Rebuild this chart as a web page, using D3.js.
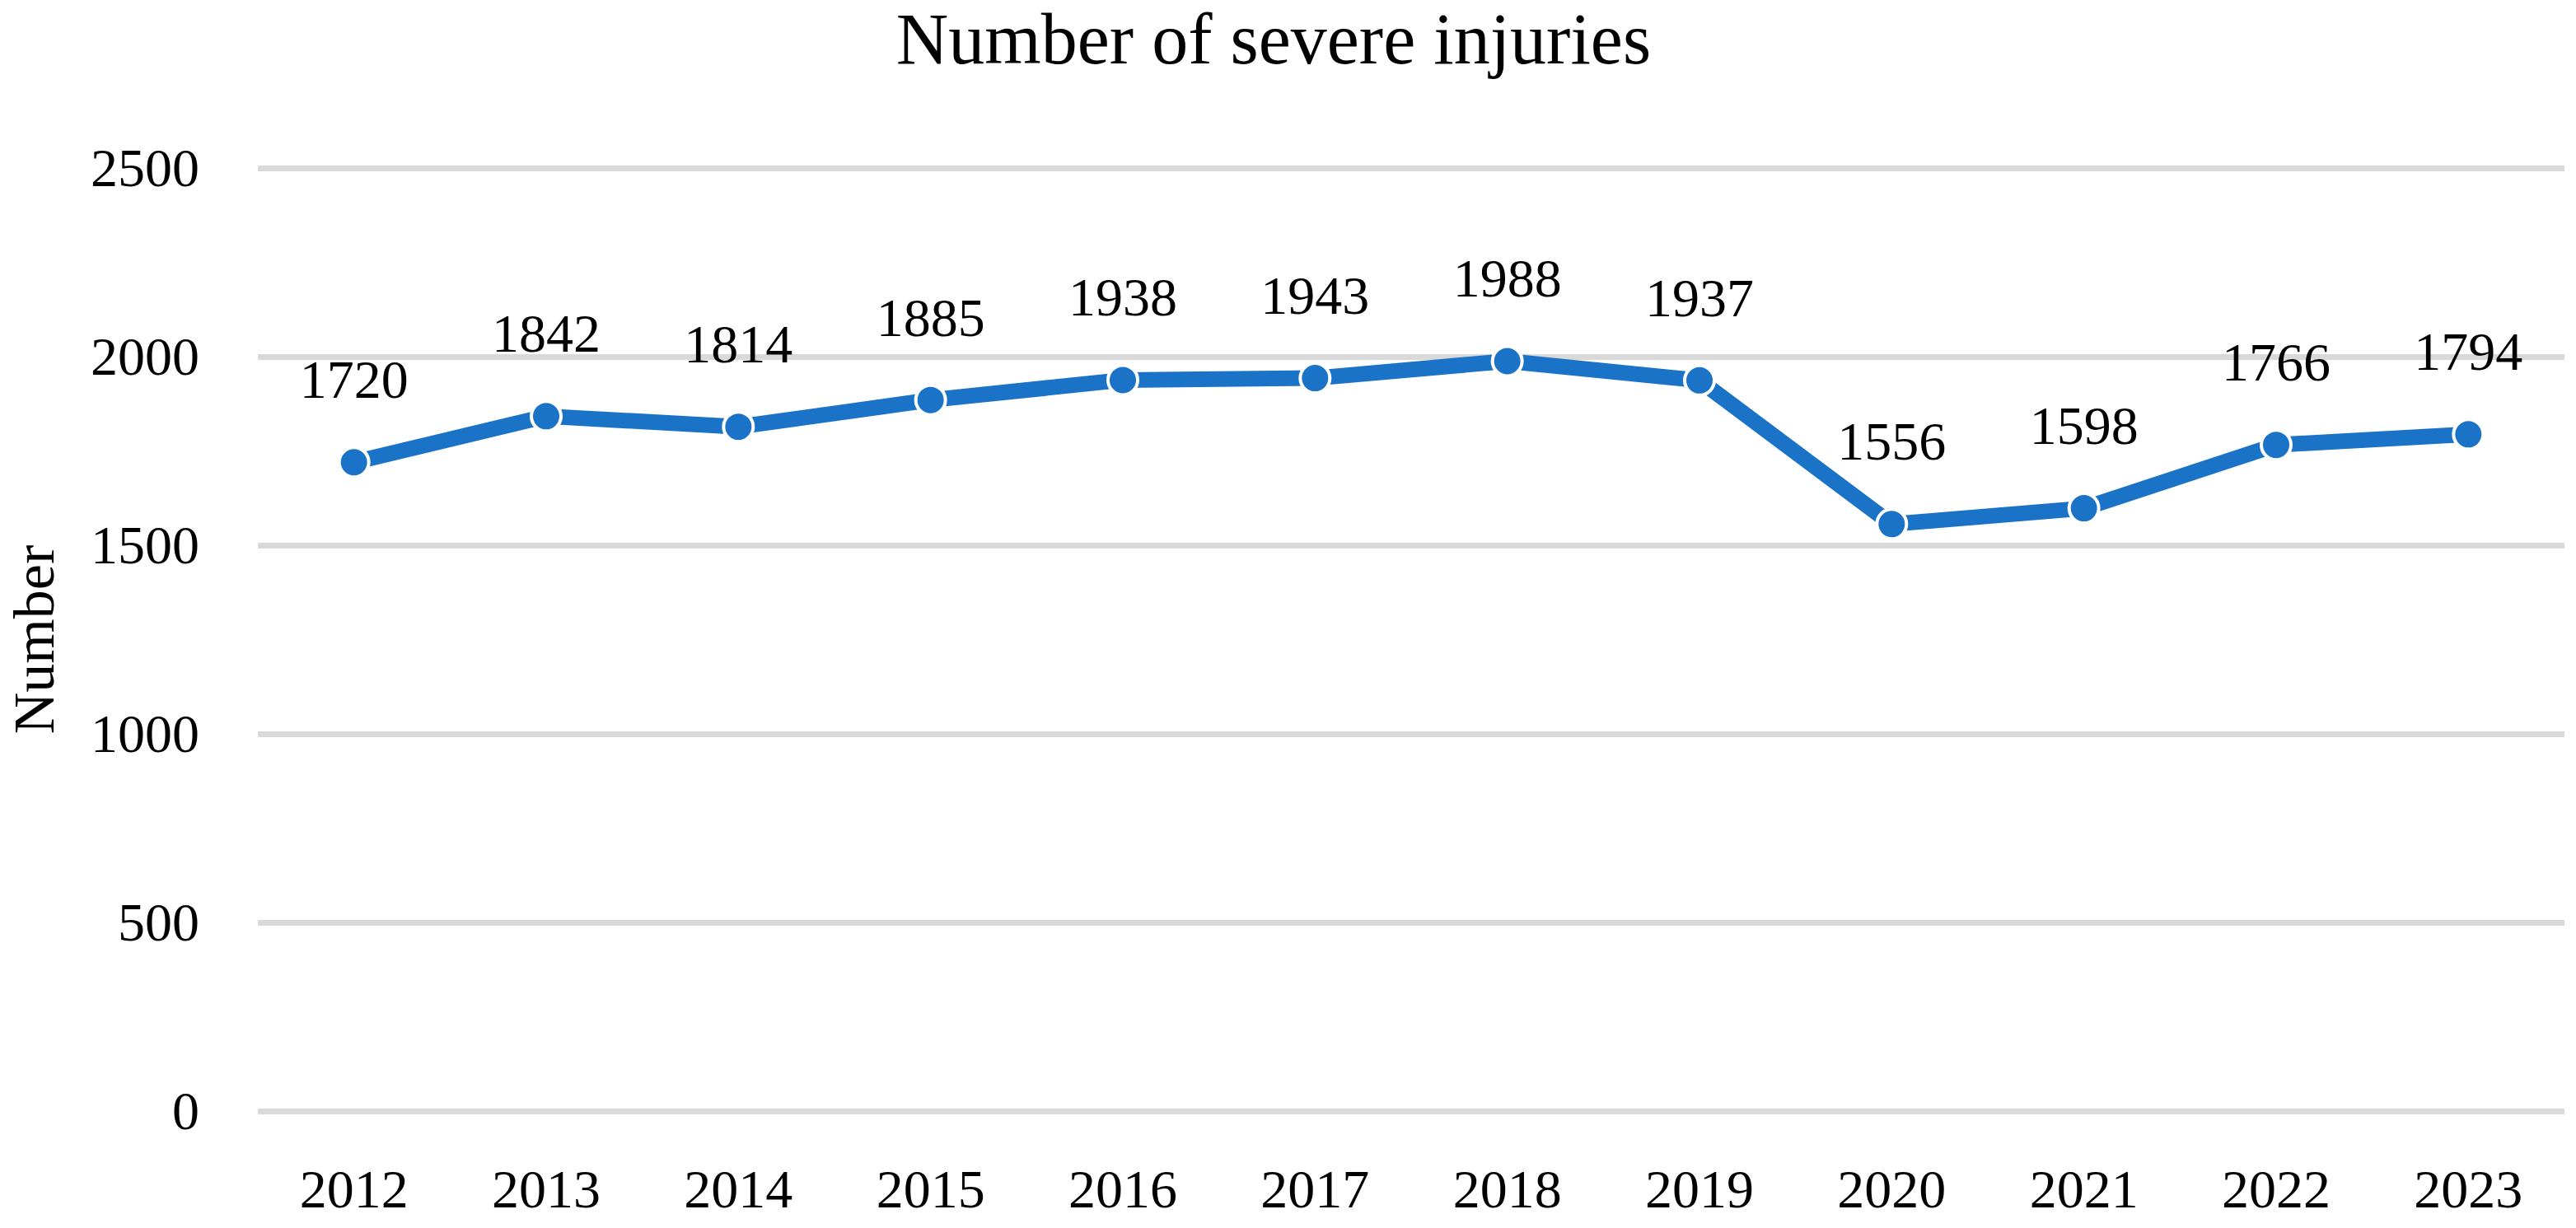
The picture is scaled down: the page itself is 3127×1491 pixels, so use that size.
<!DOCTYPE html>
<html lang="en">
  <head>
    <meta charset="utf-8">
    <title>Number of severe injuries</title>
    <script src="https://cdn.jsdelivr.net/npm/d3@7"></script>
    <style>
      body { margin: 0; background: #fff; }
      svg text { font-family: "Palatino Linotype", "Book Antiqua", Palatino, "Liberation Serif", serif; fill: #000; }
    </style>
  </head>
  <body>
    <div id='main'></div>

    <script type='text/javascript'>

      // chart data
      const years = ['2012','2013','2014','2015','2016','2017','2018','2019','2020','2021','2022','2023'];
      const injuries = [1720, 1842, 1814, 1885, 1938, 1943, 1988, 1937, 1556, 1598, 1766, 1794];
      const yTicks = [0, 500, 1000, 1500, 2000, 2500];

      const width = 3127, height = 1491;
      const plotLeft = 313, plotRight = 3113, plotTop = 204, plotBottom = 1349;
      const blue = '#1a73c7';

      let svg = d3.select('#main').append('svg')
        .attr('width', width)
        .attr('height', height);

      const x = d3.scaleBand().domain(years).range([plotLeft, plotRight]);
      const y = d3.scaleLinear().domain([0, 2500]).range([plotBottom, plotTop]);
      const cx = d => x(d) + x.bandwidth() / 2;

      // gridlines + y tick labels
      const yAxis = svg.append('g')
        .attr('transform', `translate(${plotLeft},0)`)
        .call(d3.axisLeft(y).tickValues(yTicks).tickFormat(d3.format('d'))
          .tickSizeInner(-(plotRight - plotLeft)).tickSizeOuter(0).tickPadding(71));
      yAxis.select('.domain').remove();
      yAxis.selectAll('.tick line').attr('stroke', '#d9d9d9').attr('stroke-width', 7);
      yAxis.selectAll('.tick text').attr('font-size', '66px').attr('fill', '#000');

      // x tick labels
      const xAxis = svg.append('g')
        .attr('transform', `translate(0,${plotBottom})`)
        .call(d3.axisBottom(x).tickSize(0).tickPadding(70));
      xAxis.select('.domain').remove();
      xAxis.selectAll('.tick text').attr('font-size', '66px').attr('fill', '#000');

      // series line
      const line = d3.line()
        .x((d, i) => cx(years[i]))
        .y(d => y(d));

      svg.append('path')
        .datum(injuries)
        .attr('d', line)
        .attr('fill', 'none')
        .attr('stroke', blue)
        .attr('stroke-width', 19)
        .attr('stroke-linejoin', 'round');

      // markers
      svg.selectAll('circle.pt')
        .data(injuries)
        .enter()
        .append('circle')
        .attr('class', 'pt')
        .attr('cx', (d, i) => cx(years[i]))
        .attr('cy', d => y(d))
        .attr('r', 18)
        .attr('fill', blue)
        .attr('stroke', '#fff')
        .attr('stroke-width', 4);

      // data labels
      svg.selectAll('text.lbl')
        .data(injuries)
        .enter()
        .append('text')
        .attr('class', 'lbl')
        .attr('x', (d, i) => cx(years[i]))
        .attr('y', d => y(d) - 78)
        .attr('text-anchor', 'middle')
        .attr('font-size', '66px')
        .text(d => d);

      // title
      svg.append('text')
        .attr('x', 1546)
        .attr('y', 77)
        .attr('text-anchor', 'middle')
        .attr('font-size', '88px')
        .text('Number of severe injuries');

      // y axis title
      svg.append('text')
        .attr('transform', `translate(65,${(plotTop + plotBottom) / 2}) rotate(-90)`)
        .attr('text-anchor', 'middle')
        .attr('font-size', '70px')
        .text('Number');

    </script>
  </body>
</html>
